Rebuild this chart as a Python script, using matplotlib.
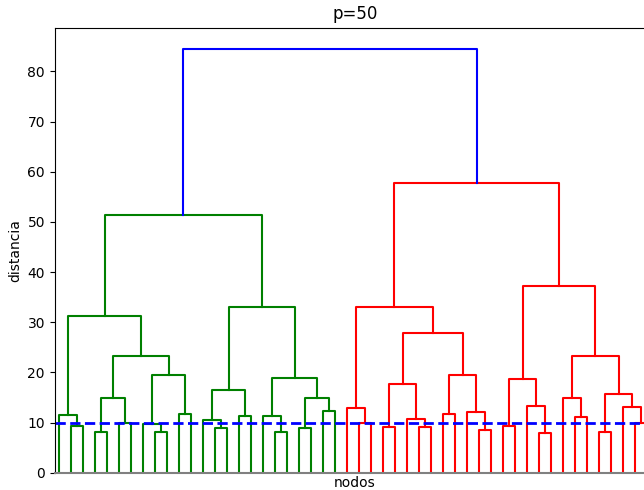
import numpy as np
import matplotlib
matplotlib.use("Agg")
import matplotlib.pyplot as plt

# leaves are numbered in plotting order (0..49), new clusters get 50, 51, ...
n_leaves = 50
merge_left = [1, 0, 3, 5, 52, 8, 7, 10, 56, 54, 51,
              13, 12, 15, 62, 18, 17, 20, 22, 67, 66, 64, 60,
              25, 24, 27, 30, 29, 75, 32, 35, 34, 79, 78, 74,
              37, 40, 39, 85, 43, 42, 45, 48, 47, 91, 90, 88, 84, 72]
merge_right = [2, 50, 4, 6, 53, 9, 55, 11, 57, 58, 59,
               14, 61, 16, 63, 19, 65, 21, 23, 68, 69, 70, 71,
               26, 73, 28, 31, 76, 77, 33, 36, 80, 81, 82, 83,
               38, 41, 86, 87, 44, 89, 46, 49, 92, 93, 94, 95, 96, 97]
merge_height = [9.3, 11.5, 8.1, 9.9, 15.0, 8.1, 9.8, 11.7, 19.4, 23.2, 31.3,
                9.0, 10.6, 11.3, 16.5, 8.1, 11.3, 8.9, 12.3, 14.9, 18.8, 33.0, 51.3,
                9.9, 13.0, 9.1, 9.1, 10.7, 17.7, 11.8, 8.6, 12.2, 19.4, 27.9, 33.1,
                9.4, 7.9, 13.3, 18.7, 11.1, 14.9, 8.2, 10.0, 13.1, 15.8, 23.2, 37.2, 57.8, 84.5]

cut_height = 10
cluster_colors = ["g", "r", "c", "m", "y", "k"]


def node_positions():
    """x position and height of every leaf and merged cluster"""
    xs = {i: 10 * i + 5 for i in range(n_leaves)}
    hs = {i: 0.0 for i in range(n_leaves)}
    for k, (a, b, h) in enumerate(zip(merge_left, merge_right, merge_height)):
        node = n_leaves + k
        xs[node] = (xs[a] + xs[b]) / 2
        hs[node] = h
    return xs, hs


def node_colors(threshold):
    """colour of each merge, like scipy's color_threshold"""
    root = n_leaves + len(merge_height) - 1
    colors = {}
    count = [0]

    def walk(node, col):
        if node < n_leaves:
            return
        k = node - n_leaves
        h = merge_height[k]
        if col is None and h < threshold:
            col = cluster_colors[count[0] % len(cluster_colors)]
            count[0] += 1
        colors[node] = col if col is not None else "b"
        walk(merge_left[k], col)
        walk(merge_right[k], col)

    walk(root, None)
    return colors


xs, hs = node_positions()
colors = node_colors(0.7 * max(merge_height))

fig = plt.figure(figsize=(6.44, 4.90), dpi=100)
ax = fig.add_axes([54.7 / 644, 17.2 / 490, 600 / 644, 445.1 / 490])

for k, (a, b, h) in enumerate(zip(merge_left, merge_right, merge_height)):
    node = n_leaves + k
    ax.plot([xs[a], xs[a], xs[b], xs[b]], [hs[a], h, h, hs[b]],
            color=colors[node], linewidth=1.5)

ax.axhline(y=cut_height, c="b", linestyle="--", linewidth=2)

ax.set_xlim(1.3, 10 * n_leaves + 1.3)
ax.set_ylim(0, max(merge_height) * 1.05)
ax.set_xticks([])
ax.spines["bottom"].set_color("#808080")
ax.spines["bottom"].set_linewidth(1.5)
ax.set_title("p=50")
ax.set_xlabel("nodos", labelpad=2)
ax.set_ylabel("distancia")

fig.savefig("out.png", dpi=100)
